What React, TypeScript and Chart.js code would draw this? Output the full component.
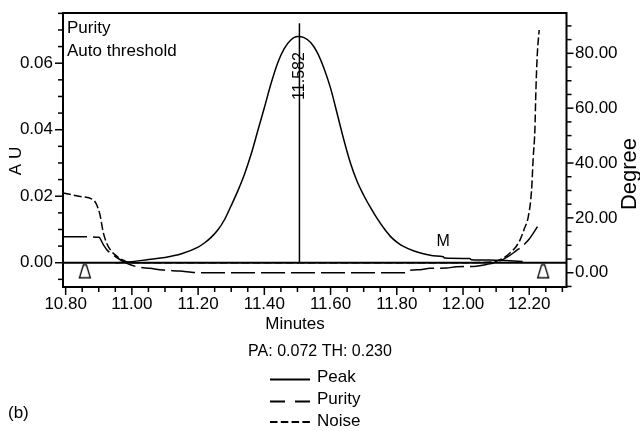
import { useEffect, useRef } from "react";
import { Chart, registerables } from "chart.js";

Chart.register(...registerables);

const FONT = '"Liberation Sans", Arial, Helvetica, sans-serif';

// ---- axis ranges / tick labels ----
const timeRange = [10.792, 12.3125];
const auRange = [-0.0073, 0.0751];
const degreeRange = [-5.2, 94.7];
const timeMajorTicks = [10.8, 11.0, 11.2, 11.4, 11.6, 11.8, 12.0, 12.2];
const auMajorTicks = [0, 0.02, 0.04, 0.06];
const degreeMajorTicks = [0, 20, 40, 60, 80];

// ---- Peak (AU) ----
const peakTimes = [
  10.95, 11.0, 11.05, 11.1, 11.15, 11.2, 11.22, 11.24, 11.26, 11.28, 11.3, 11.32, 11.34, 11.36, 11.38,
  11.4, 11.42, 11.44, 11.46, 11.48, 11.5, 11.52, 11.54, 11.56, 11.58, 11.6, 11.62, 11.64, 11.66, 11.68,
  11.7, 11.72, 11.74, 11.76, 11.78, 11.8, 11.82, 11.85, 11.88, 11.91, 11.94, 11.945, 12.0, 12.02,
  12.025, 12.08, 12.14, 12.18,
];
const peakValues = [
  0.0, 0.0003, 0.001, 0.0016, 0.0027, 0.0047, 0.006, 0.0077, 0.0099, 0.013, 0.0172, 0.0216, 0.0266,
  0.0326, 0.0396, 0.0466, 0.0538, 0.0600, 0.0644, 0.0670, 0.0680, 0.0677, 0.0662, 0.0632, 0.0585,
  0.0525, 0.0448, 0.037, 0.03, 0.0245, 0.0203, 0.0167, 0.0134, 0.0105, 0.008, 0.0062, 0.0049, 0.0036,
  0.0027, 0.0021, 0.0018, 0.0014, 0.0013, 0.0013, 0.0009, 0.0008, 0.0006, 0.0004,
];

// ---- Purity (degree) ----
const purityTimes = [
  10.792, 10.85, 10.9, 10.915, 10.925, 10.94, 10.96, 10.985, 11.015, 11.055, 11.095, 11.145, 11.18,
  11.2, 11.5, 11.83, 11.84, 11.87, 11.9, 11.95, 11.98, 12.04, 12.07, 12.1, 12.12, 12.14, 12.16, 12.18,
  12.2, 12.225,
];
const purityValues = [
  13.1, 13.1, 12.9, 10.0, 8.3, 6.8, 5.1, 3.4, 2.2, 1.6, 1.0, 0.6, 0.2, 0.0, 0.0, 0.0, 0.9, 1.1, 1.6,
  1.7, 2.2, 2.4, 3.0, 3.8, 4.8, 6.2, 8.0, 9.8, 12.3, 16.8,
];

// ---- Noise (degree) ----
const noiseTimes = [
  10.792, 10.84, 10.885, 10.894, 10.904, 10.913, 10.925, 10.943, 10.95, 10.96, 10.974, 10.994, 11.05,
  11.3, 11.6, 11.9, 12.05, 12.1, 12.12, 12.14, 12.16, 12.172, 12.185, 12.197, 12.207, 12.212, 12.217,
  12.22, 12.224, 12.23,
];
const noiseValues = [
  29.1, 27.9, 26.4, 24.7, 21.0, 15.0, 10.5, 7.2, 6.5, 5.5, 4.6, 3.7, 3.6, 3.6, 3.6, 3.6, 3.7, 4.2,
  5.2, 7.0, 9.5, 11.9, 16.0, 20.4, 30.1, 42.0, 52.0, 66.0, 79.0, 88.5,
];

// ---- markers ----
const apexTimes = [11.506, 11.506];
const apexLevels = [0, 0.072];
const baselineLevels = [0, 0];
const triangleTimes = [10.858, 12.242];
const triangleLevels = [-0.0026, -0.0026];
const mMarkTime = 11.94;
const mMarkLevel = 0.0065;

const legendLabels = ["Peak", "Purity", "Noise"];
const legendDashes = [[], [15, 10], [7.5, 3.3]];

const near = (v: number, list: number[]) => list.some((m) => Math.abs(m - v) < 1e-7);
const zip = (xs: number[], ys: number[]) => xs.map((x, i) => ({ x, y: ys[i] }));

function makeTriangle() {
  const c = document.createElement("canvas");
  c.width = 14;
  c.height = 16;
  const g = c.getContext("2d")!;
  g.fillStyle = "#fff";
  g.strokeStyle = "#000";
  g.lineWidth = 1.3;
  g.beginPath();
  g.moveTo(5.5, 1.5);
  g.lineTo(8.5, 1.5);
  g.lineTo(12.5, 14.5);
  g.lineTo(1.5, 14.5);
  g.closePath();
  g.fill();
  g.stroke();
  return c;
}

const decorPlugin = {
  id: "decor",
  afterDraw(chart: any) {
    const { ctx, chartArea: a } = chart;
    const xs = chart.scales.x;
    const yl = chart.scales.y;
    const yr = chart.scales.y2;
    ctx.save();
    ctx.strokeStyle = "#000";
    ctx.fillStyle = "#000";

    // ticks
    ctx.lineWidth = 1.5;
    xs.ticks.forEach((t: any) => {
      const p = xs.getPixelForValue(t.value);
      const len = near(t.value, timeMajorTicks) ? 8 : 5;
      ctx.beginPath();
      ctx.moveTo(p, a.bottom);
      ctx.lineTo(p, a.bottom + len);
      ctx.stroke();
    });
    yl.ticks.forEach((t: any) => {
      const p = yl.getPixelForValue(t.value);
      const len = near(t.value, auMajorTicks) ? 8 : 5;
      ctx.beginPath();
      ctx.moveTo(a.left, p);
      ctx.lineTo(a.left - len, p);
      ctx.stroke();
    });
    yr.ticks.forEach((t: any) => {
      const p = yr.getPixelForValue(t.value);
      const len = near(t.value, degreeMajorTicks) ? 7 : 5;
      ctx.beginPath();
      ctx.moveTo(a.right, p);
      ctx.lineTo(a.right + len, p);
      ctx.stroke();
    });

    // frame
    ctx.lineWidth = 2;
    ctx.strokeRect(a.left, a.top, a.right - a.left, a.bottom - a.top);

    // texts inside plot
    ctx.textAlign = "left";
    ctx.textBaseline = "alphabetic";
    ctx.font = `17px ${FONT}`;
    ctx.fillText("Purity", a.left + 4, 33);
    ctx.fillText("Auto threshold", a.left + 4, 56);

    ctx.font = `16px ${FONT}`;
    ctx.textAlign = "center";
    ctx.textBaseline = "middle";
    ctx.fillText("M", xs.getPixelForValue(mMarkTime), yl.getPixelForValue(mMarkLevel));

    const rot = (txt: string, x: number, y: number, font: string) => {
      ctx.save();
      ctx.translate(x, y);
      ctx.rotate(-Math.PI / 2);
      ctx.font = font;
      ctx.textAlign = "center";
      ctx.textBaseline = "middle";
      ctx.fillText(txt, 0, 0);
      ctx.restore();
    };
    rot("11.582", xs.getPixelForValue(apexTimes[0]), 76, `16px ${FONT}`);
    rot("A U", 16.5, 161, `17px ${FONT}`);
    rot("Degree", 630, 174, `22px ${FONT}`);

    ctx.font = `17px ${FONT}`;
    ctx.textAlign = "center";
    ctx.textBaseline = "middle";
    ctx.fillText("Minutes", 295, 324);
    ctx.font = `16px ${FONT}`;
    ctx.fillText("PA: 0.072 TH: 0.230", 320, 352);

    // legend
    const textY = [377, 399, 421];
    const lineY = [379.5, 401.5, 422];
    legendLabels.forEach((lab, i) => {
      ctx.save();
      ctx.lineWidth = 2;
      ctx.setLineDash(legendDashes[i]);
      ctx.beginPath();
      ctx.moveTo(270, lineY[i]);
      ctx.lineTo(310, lineY[i]);
      ctx.stroke();
      ctx.restore();
      ctx.font = `17px ${FONT}`;
      ctx.textAlign = "left";
      ctx.textBaseline = "middle";
      ctx.fillText(lab, 317, textY[i]);
    });

    ctx.font = `17px ${FONT}`;
    ctx.textAlign = "left";
    ctx.textBaseline = "middle";
    ctx.fillText("(b)", 8, 413);
    ctx.restore();
  },
};

const noPad = (s: any) => {
  s.paddingTop = 0;
  s.paddingBottom = 0;
  s.paddingLeft = 0;
  s.paddingRight = 0;
};

export default function App() {
  const ref = useRef<HTMLCanvasElement>(null);
  useEffect(() => {
    document.body.style.margin = "0";
    const tri = makeTriangle();
    const line = (data: any[], extra: any) => ({
      data,
      borderColor: "#000",
      backgroundColor: "#000",
      borderWidth: 1.5,
      pointRadius: 0,
      fill: false,
      tension: 0,
      ...extra,
    });
    const chart = new Chart(ref.current!, {
      type: "line",
      data: {
        datasets: [
          line(zip(timeRange, baselineLevels), { yAxisID: "y", borderWidth: 2 }),
          line(zip(apexTimes, apexLevels), { yAxisID: "y" }),
          line(zip(peakTimes, peakValues), { yAxisID: "y", cubicInterpolationMode: "monotone" }),
          line(zip(purityTimes, purityValues), {
            yAxisID: "y2",
            borderDash: [24, 6],
            cubicInterpolationMode: "monotone",
          }),
          line(zip(noiseTimes, noiseValues), {
            yAxisID: "y2",
            borderDash: [8, 3],
            cubicInterpolationMode: "monotone",
          }),
          {
            data: zip(triangleTimes, triangleLevels),
            yAxisID: "y",
            showLine: false,
            pointStyle: tri,
            pointRadius: 7,
            borderColor: "#000",
            backgroundColor: "#fff",
          },
        ],
      },
      options: {
        animation: false,
        responsive: false,
        events: [],
        layout: { padding: { top: 13, left: 0, right: 0, bottom: 0 } },
        plugins: { legend: { display: false }, tooltip: { enabled: false }, title: { display: false } },
        scales: {
          x: {
            type: "linear",
            position: "bottom",
            min: timeRange[0],
            max: timeRange[1],
            grid: { display: false, drawTicks: false },
            border: { display: false },
            afterFit: (s: any) => {
              s.height = 144;
              noPad(s);
            },
            ticks: {
              stepSize: 0.05,
              includeBounds: false,
              autoSkip: false,
              maxRotation: 0,
              minRotation: 0,
              padding: 7,
              color: "#000",
              font: { family: FONT, size: 17 },
              callback: (v: any) => (near(Number(v), timeMajorTicks) ? Number(v).toFixed(2) : ""),
            },
          },
          y: {
            type: "linear",
            position: "left",
            min: auRange[0],
            max: auRange[1],
            grid: { display: false, drawTicks: false },
            border: { display: false },
            afterFit: (s: any) => {
              s.width = 63;
              noPad(s);
            },
            ticks: {
              stepSize: 0.005,
              includeBounds: false,
              autoSkip: false,
              padding: 10,
              color: "#000",
              font: { family: FONT, size: 17 },
              callback: (v: any) => (near(Number(v), auMajorTicks) ? Number(v).toFixed(2) : ""),
            },
          },
          y2: {
            type: "linear",
            position: "right",
            min: degreeRange[0],
            max: degreeRange[1],
            grid: { display: false, drawTicks: false },
            border: { display: false },
            afterFit: (s: any) => {
              s.width = 73.5;
              noPad(s);
            },
            ticks: {
              stepSize: 5,
              includeBounds: false,
              autoSkip: false,
              padding: 8.5,
              color: "#000",
              font: { family: FONT, size: 17 },
              callback: (v: any) => (near(Number(v), degreeMajorTicks) ? Number(v).toFixed(2) : ""),
            },
          },
        },
      },
      plugins: [decorPlugin],
    } as any);
    return () => chart.destroy();
  }, []);
  return (
    <div style={{ width: 640, height: 431 }}>
      <canvas ref={ref} width={640} height={431} style={{ display: "block" }} />
    </div>
  );
}
